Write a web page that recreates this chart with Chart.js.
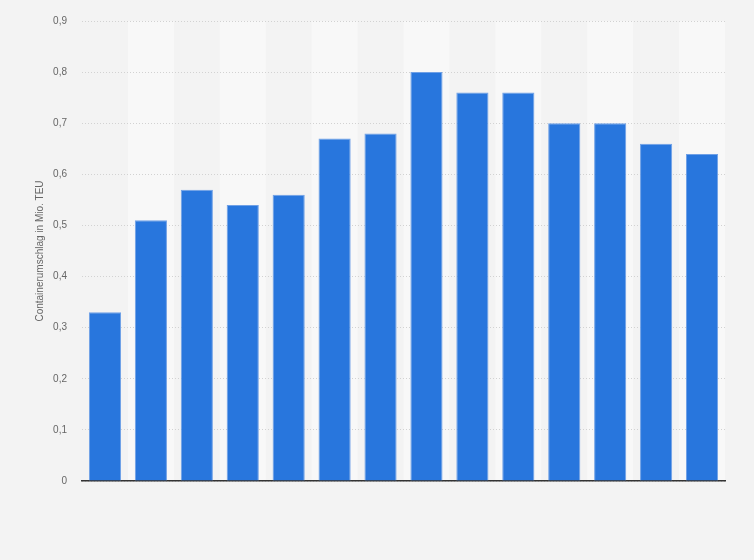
<!DOCTYPE html>
<html>
<head>
<meta charset="utf-8">
<script src="https://cdn.jsdelivr.net/npm/chart.js@4/dist/chart.umd.min.js"></script>
<style>
  html, body { margin: 0; padding: 0; background: #f3f3f3; }
  #wrap { width: 754px; height: 560px; position: relative; }
</style>
</head>
<body>
<div id="wrap"><canvas id="bar-chart"></canvas></div>
<script>
const CATEGORIES = ['1', '2', '3', '4', '5', '6', '7', '8', '9', '10', '11', '12', '13', '14'];
const TEU_VALUES = [0.33, 0.51, 0.57, 0.54, 0.56, 0.67, 0.68, 0.80, 0.76, 0.76, 0.70, 0.70, 0.66, 0.64];
const AXIS_TITLE = 'Containerumschlag in Mio. TEU';

const FONT = '"Liberation Sans", Arial, sans-serif';

// alternating light columns behind the bars
const stripes = {
  id: 'stripes',
  beforeDatasetsDraw(chart) {
    const { ctx, chartArea, scales } = chart;
    const x = scales.x;
    const half = (x.getPixelForValue(1) - x.getPixelForValue(0)) / 2;
    ctx.save();
    ctx.fillStyle = '#f8f8f8';
    CATEGORIES.forEach((c, i) => {
      if (i % 2 === 0) return;
      const cx = x.getPixelForValue(i);
      ctx.fillRect(cx - half, chartArea.top, half * 2, chartArea.bottom - chartArea.top);
    });
    ctx.restore();
  },
};

// stripes must sit under grid lines, so draw them first
const stripesUnder = {
  id: 'stripesUnder',
  beforeDraw(chart) { stripes.beforeDatasetsDraw(chart); },
};

const ctx = document.getElementById('bar-chart').getContext('2d');
new Chart(ctx, {
  type: 'bar',
  data: {
    labels: CATEGORIES,
    datasets: [{
      data:               TEU_VALUES,
      backgroundColor:    '#2876dd',
      borderColor:        '#6fa0e6',
      borderWidth:        1,
      barPercentage:      0.7,
      categoryPercentage: 1,
    }],
  },
  options: {
    responsive:          true,
    maintainAspectRatio: false,
    animation:           false,
    layout: { padding: { left: 30, right: 29, top: 19, bottom: 79 } },
    plugins: {
      legend:  { display: false },
      tooltip: { enabled: false },
    },
    scales: {
      x: {
        grid:   { display: false },
        ticks:  { display: false },
        border: { display: true, color: '#333333', width: 1.5 },
        afterFit: (s) => { s.height = 0; },
      },
      y: {
        min: 0,
        max: 0.9,
        grid:   { color: '#d2d2d2', lineWidth: 1, drawTicks: false },
        border: { display: false, dash: [1, 2] },
        ticks: {
          stepSize: 0.1,
          padding:  15,
          color:    '#666666',
          font:     { family: FONT, size: 10 },
          callback: (v) => (v === 0 ? '0' : v.toFixed(1).replace('.', ',')),
        },
        title: {
          display: true,
          text:    AXIS_TITLE,
          color:   '#666666',
          font:    { family: FONT, size: 10 },
          padding: { top: 4, bottom: 0 },
        },
        afterFit: (s) => { s.width = 52; },
      },
    },
  },
  plugins: [stripesUnder],
});
</script>
</body>
</html>
